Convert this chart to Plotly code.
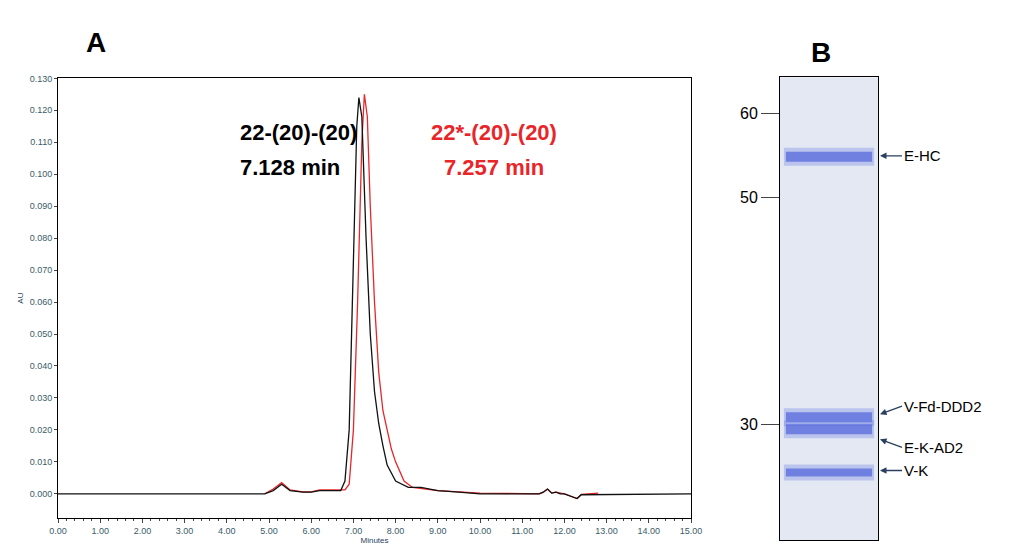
import plotly.graph_objects as go

# Chromatogram data (minutes, AU)
black_t = [0, 4.9, 5.1, 5.3, 5.5, 5.8, 6.0, 6.2, 6.7, 6.8, 6.9, 7.0, 7.08, 7.13, 7.2, 7.3, 7.4, 7.5, 7.6, 7.7, 7.8, 8.0, 8.3, 8.6, 9.0, 9.5, 10.0, 11.4, 11.5, 11.6, 11.7, 11.8, 11.9, 12.0, 12.2, 12.3, 12.4, 15.0]
black_au = [0, 0, 0.001, 0.003, 0.001, 0.0005, 0.0005, 0.001, 0.001, 0.004, 0.02, 0.07, 0.115, 0.124, 0.118, 0.08, 0.05, 0.032, 0.022, 0.015, 0.009, 0.004, 0.002, 0.002, 0.001, 0.0005, 0, 0, 0.0005, 0.0015, 0.0002, 0.0005, 0, 0, -0.001, -0.0015, -0.0003, 0]
red_t = [4.9, 5.1, 5.3, 5.5, 5.8, 6.0, 6.2, 6.8, 6.9, 7.0, 7.1, 7.2, 7.26, 7.33, 7.4, 7.5, 7.6, 7.7, 7.8, 7.9, 8.0, 8.2, 8.4, 8.7, 9.0, 9.5, 10.0, 11.4, 11.5, 11.6, 11.7, 11.8, 12.0, 12.2, 12.3, 12.4, 12.8]
red_au = [0, 0.0015, 0.0035, 0.0012, 0.0006, 0.0006, 0.0012, 0.0012, 0.003, 0.02, 0.06, 0.11, 0.125, 0.118, 0.09, 0.06, 0.038, 0.026, 0.02, 0.014, 0.01, 0.004, 0.002, 0.0015, 0.001, 0.0006, 0.0002, 0, 0.0005, 0.0015, 0.0002, 0.0005, 0, -0.001, -0.0015, -0.0002, 0.0002]

# Gel data
marker_pos = [113, 196, 422]
marker_labels = ["60", "50", "30"]
band_pos = [155, 414, 426, 469]
band_width = [12, 12, 12, 10]
band_labels = ["E-HC", "V-Fd-DDD2", "E-K-AD2", "V-K"]
label_pos = [155, 404, 445, 468]
arrow_tip = [155, 412, 437, 468]


def px(x):
    return (x - 16) / 1004


def py(y):
    return 1 - (y - 13) / 545


fig = go.Figure()
fig.add_trace(go.Scatter(x=red_t, y=red_au, mode="lines", line=dict(color="#e8262a", width=1.3), showlegend=False))
fig.add_trace(go.Scatter(x=black_t, y=black_au, mode="lines", line=dict(color="#111111", width=1.3), showlegend=False))

for yb, w in zip(band_pos, band_width):
    fig.add_trace(go.Scatter(x=[0.04, 0.5, 0.96], y=[yb + 1, yb, yb + 1], mode="lines", xaxis="x2", yaxis="y2",
                             line=dict(color="rgba(110,130,225,0.35)", width=w + 6), showlegend=False, hoverinfo="skip"))
    fig.add_trace(go.Scatter(x=[0.06, 0.5, 0.94], y=[yb + 1, yb, yb + 1], mode="lines", xaxis="x2", yaxis="y2",
                             line=dict(color="rgba(80,100,220,0.7)", width=w - 2), showlegend=False, hoverinfo="skip"))

fig.update_layout(
    width=1024, height=553, margin=dict(l=0, r=0, t=0, b=0),
    paper_bgcolor="white", plot_bgcolor="white", font=dict(family="Arial, Liberation Sans"),
    xaxis=dict(domain=[px(57), px(690)], range=[0, 15], tickvals=list(range(16)),
               ticktext=[f"{v:.2f}" for v in range(16)], tickfont=dict(size=9, color="#3a5a6a"),
               ticks="outside", ticklen=4, minor=dict(dtick=0.2, ticks="outside", ticklen=2),
               showline=True, linecolor="black", mirror=True, showgrid=False, zeroline=False,
               title=dict(text="Minutes", font=dict(size=8), standoff=2)),
    yaxis=dict(domain=[py(515), py(78)], range=[-0.0075, 0.130], tickvals=[i * 0.01 for i in range(14)],
               tickformat=".3f", tickfont=dict(size=9, color="#3a5a6a"), ticks="outside", ticklen=3,
               showline=True, linecolor="black", mirror=True, showgrid=False, zeroline=False,
               title=dict(text="AU", font=dict(size=8), standoff=4)),
    xaxis2=dict(domain=[px(779), px(877)], range=[0, 1], anchor="y2", showticklabels=False, showgrid=False,
                zeroline=False, showline=True, linecolor="black", mirror=True, ticks=""),
    yaxis2=dict(domain=[py(537), py(77)], range=[537, 77], anchor="x2", tickvals=marker_pos, ticktext=marker_labels,
                tickfont=dict(size=16, color="black"), ticks="outside", ticklen=18, showgrid=False,
                zeroline=False, showline=True, linecolor="black", mirror=True),
)
fig.add_shape(type="rect", xref="x2 domain", yref="y2 domain", x0=0, x1=1, y0=0, y1=1,
              fillcolor="#e4e8f3", line=dict(width=0), layer="below")

ann = [
    dict(x=83, y=25, text="<b>A</b>", size=28, color="black"),
    dict(x=832, y=35, text="<b>B</b>", size=28, color="black"),
    dict(x=237, y=117, text="<b>22-(20)-(20)</b>", size=22, color="black"),
    dict(x=237, y=152, text="<b>7.128 min</b>", size=22, color="black"),
    dict(x=493, y=117, text="<b>22*-(20)-(20)</b>", size=22, color="#e8262a"),
    dict(x=493, y=152, text="<b>7.257 min</b>", size=22, color="#e8262a"),
]
for a in ann:
    fig.add_annotation(x=px(a["x"]), y=py(a["y"]), xref="paper", yref="paper", text=a["text"],
                       showarrow=False, font=dict(size=a["size"], color=a["color"]))

for lab, ly, tip in zip(band_labels, label_pos, arrow_tip):
    fig.add_annotation(x=px(879), y=py(tip), xref="paper", yref="paper", text=lab, showarrow=True, arrowhead=2,
                       arrowsize=1, arrowwidth=1.3, ax=22, ay=ly - tip, xanchor="left",
                       font=dict(size=15, color="black"))

fig.write_html("out.html")
